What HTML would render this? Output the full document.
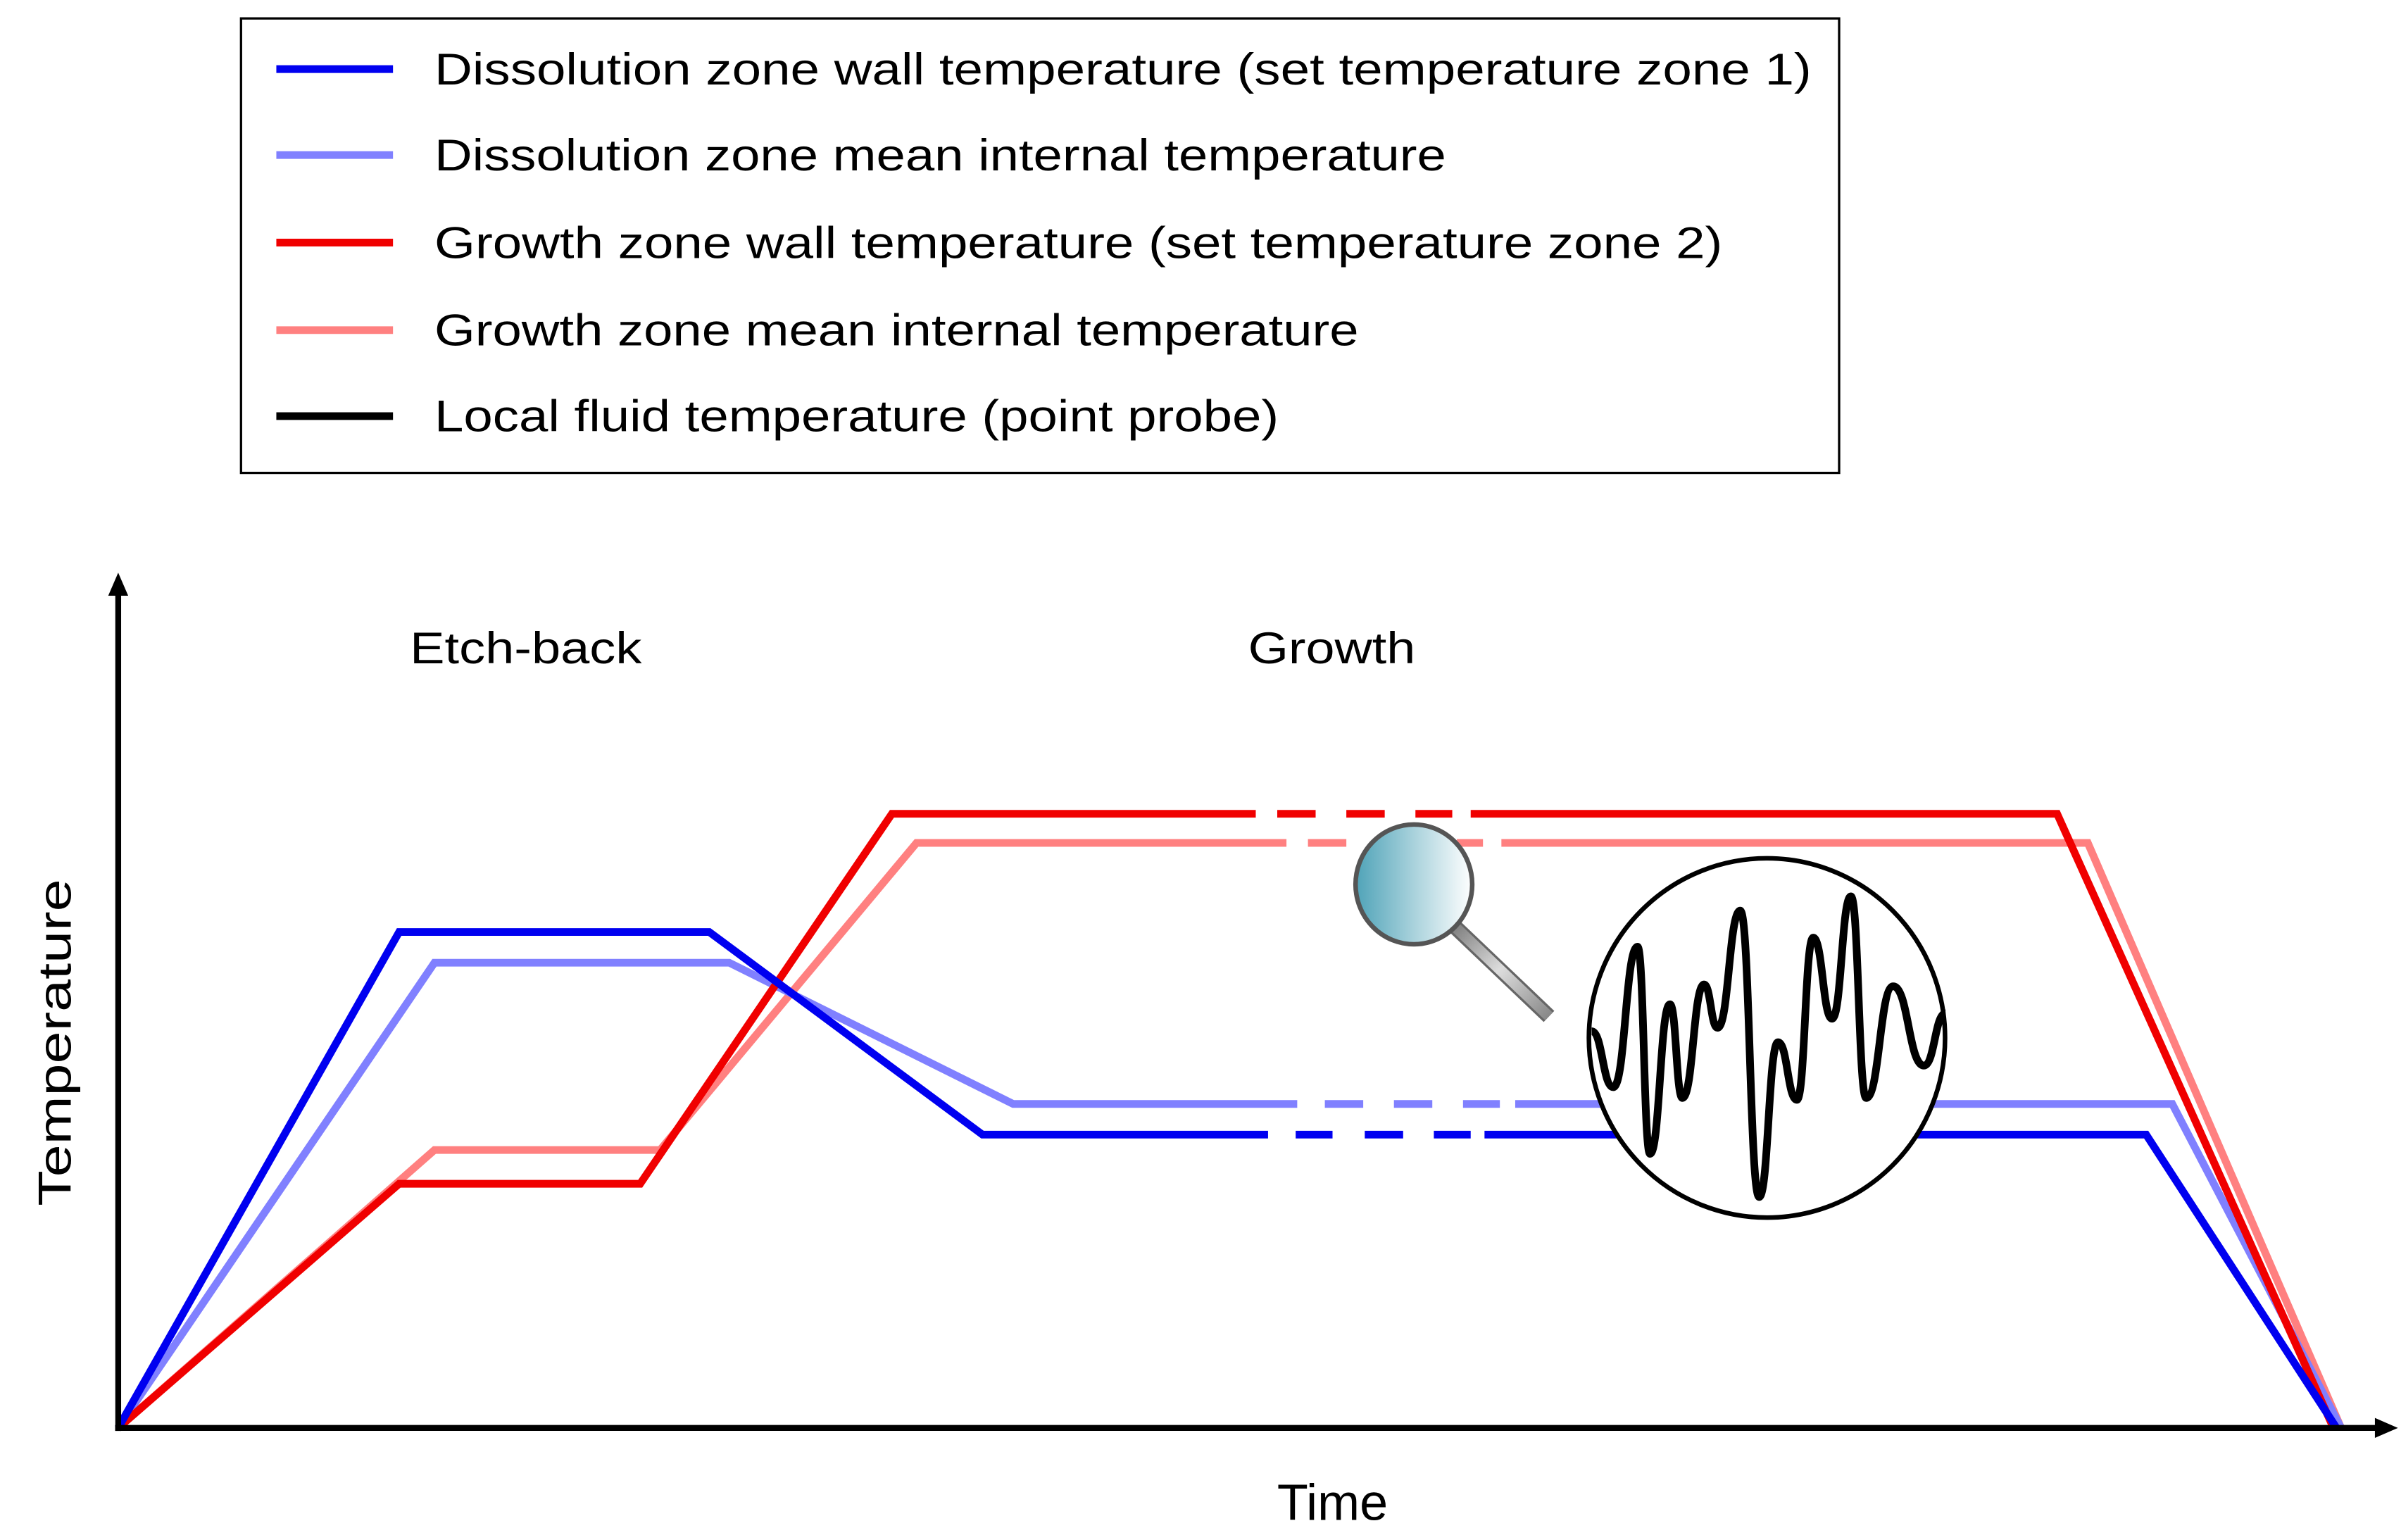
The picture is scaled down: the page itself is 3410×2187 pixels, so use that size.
<!DOCTYPE html>
<html><head><meta charset="utf-8"><style>html,body{margin:0;padding:0;background:#fff}svg{display:block}</style></head>
<body>
<svg width="3410" height="2187" viewBox="0 0 1564 1003" preserveAspectRatio="none" xmlns="http://www.w3.org/2000/svg" font-family="'Liberation Sans', sans-serif">
<defs>
<linearGradient id="lens" x1="0" x2="1" y1="0" y2="0"><stop offset="0" stop-color="#4fa3b8"/><stop offset="0.5" stop-color="#a9d2dc"/><stop offset="1" stop-color="#ffffff"/></linearGradient>
<linearGradient id="hdl" x1="0" x2="1" y1="0" y2="1"><stop offset="0" stop-color="#777"/><stop offset="0.5" stop-color="#ddd"/><stop offset="1" stop-color="#888"/></linearGradient>
</defs>
<rect width="1564" height="1003" fill="#fff"/>
<!-- legend -->
<rect x="157" y="12" width="1041" height="296" fill="#fff" stroke="#000" stroke-width="1.5"/>
<g stroke-width="5">
<line x1="180" y1="45" x2="256" y2="45" stroke="#0000f0"/>
<line x1="180" y1="101" x2="256" y2="101" stroke="#8080ff"/>
<line x1="180" y1="158" x2="256" y2="158" stroke="#f00000"/>
<line x1="180" y1="215" x2="256" y2="215" stroke="#ff8080"/>
<line x1="180" y1="271" x2="256" y2="271" stroke="#000"/>
</g>
<g font-size="29" fill="#000">
<text x="283" y="55" textLength="897" lengthAdjust="spacingAndGlyphs">Dissolution zone wall temperature (set temperature zone 1)</text>
<text x="283" y="111" textLength="659" lengthAdjust="spacingAndGlyphs">Dissolution zone mean internal temperature</text>
<text x="283" y="168" textLength="839" lengthAdjust="spacingAndGlyphs">Growth zone wall temperature (set temperature zone 2)</text>
<text x="283" y="225" textLength="602" lengthAdjust="spacingAndGlyphs">Growth zone mean internal temperature</text>
<text x="283" y="281" textLength="550" lengthAdjust="spacingAndGlyphs">Local fluid temperature (point probe)</text>
</g>
<!-- labels -->
<text x="267" y="432" font-size="29" textLength="151" lengthAdjust="spacingAndGlyphs">Etch-back</text>
<text x="813" y="432" font-size="29" textLength="109" lengthAdjust="spacingAndGlyphs">Growth</text>
<text x="868" y="990" font-size="33" text-anchor="middle">Time</text>
<text transform="translate(46,679) rotate(-90)" font-size="30" text-anchor="middle" textLength="213" lengthAdjust="spacingAndGlyphs">Temperature</text>
<!-- curves -->
<g fill="none" stroke-width="5" stroke-linejoin="miter">
<polyline stroke="#ff8080" points="77,930 283,749 430,749 597,549 838,549"/>
<polyline stroke="#ff8080" points="978,549 1360,549 1525,930"/>
<path stroke="#ff8080" d="M852,549H877M949,549H966"/>
<polyline stroke="#8080ff" points="77,930 283,627 475,627 660,719 845,719"/>
<polyline stroke="#8080ff" points="987,719 1415,719 1525,930"/>
<path stroke="#8080ff" d="M863,719H888M908,719H933M953,719H977"/>
<polyline stroke="#f00000" points="77,930 260,771 417,771 581,530 818,530"/>
<polyline stroke="#f00000" points="958,530 1340,530 1520,930"/>
<path stroke="#f00000" d="M832,530H857M877,530H902M922,530H946"/>
<polyline stroke="#0000f0" points="77,930 260,607 462,607 640,739 826,739"/>
<polyline stroke="#0000f0" points="967,739 1398,739 1522,930"/>
<path stroke="#0000f0" d="M844,739H868M889,739H914M934,739H958"/>
</g>
<!-- axes -->
<g stroke="#000" stroke-width="3.8">
<line x1="77" y1="932" x2="77" y2="385"/>
<line x1="75" y1="930" x2="1550" y2="930"/>
</g>
<polygon points="77,373 70.5,388 83.5,388" fill="#000"/>
<polygon points="1562,930 1547,923.5 1547,936.5" fill="#000"/>
<!-- magnifier -->
<line x1="945" y1="601" x2="1009" y2="662" stroke="#666" stroke-width="10" stroke-linecap="butt"/>
<line x1="945" y1="601" x2="1009" y2="662" stroke="url(#hdl)" stroke-width="7"/>
<ellipse cx="921" cy="576" rx="38" ry="39" fill="url(#lens)" stroke="#555" stroke-width="3"/>
<!-- zoom circle -->
<ellipse cx="1151" cy="676" rx="116" ry="117" fill="#fff" stroke="#000" stroke-width="3"/>
<path fill="none" stroke="#000" stroke-width="5" stroke-linejoin="round" d="M1036.8,671.7 C1043.9,671.7 1043.9,708.1 1050.9,708.1 C1058.8,708.1 1058.8,616.6 1066.7,616.6 C1070.8,616.6 1070.8,751.5 1074.8,751.5 C1081.3,751.5 1081.3,654.1 1087.8,654.1 C1091.9,654.1 1091.9,715.1 1095.9,715.1 C1103,715.1 1103,641.2 1110,641.2 C1114.4,641.2 1114.4,669.4 1118.8,669.4 C1126.2,669.4 1126.2,593.1 1133.6,593.1 C1139.8,593.1 1139.8,779.6 1145.9,779.6 C1152,779.6 1152,678.8 1158.2,678.8 C1164.4,678.8 1164.4,716.3 1170.5,716.3 C1175.8,716.3 1175.8,610.7 1181.1,610.7 C1187.3,610.7 1187.3,663.5 1193.4,663.5 C1199.6,663.5 1199.6,583.8 1205.7,583.8 C1210.7,583.8 1210.7,715.1 1215.6,715.1 C1224.4,715.1 1224.4,642.4 1233.2,642.4 C1243.2,642.4 1243.2,694 1253.2,694 C1260.3,694 1260.3,660 1267.3,660"/>
</svg>
</body></html>
